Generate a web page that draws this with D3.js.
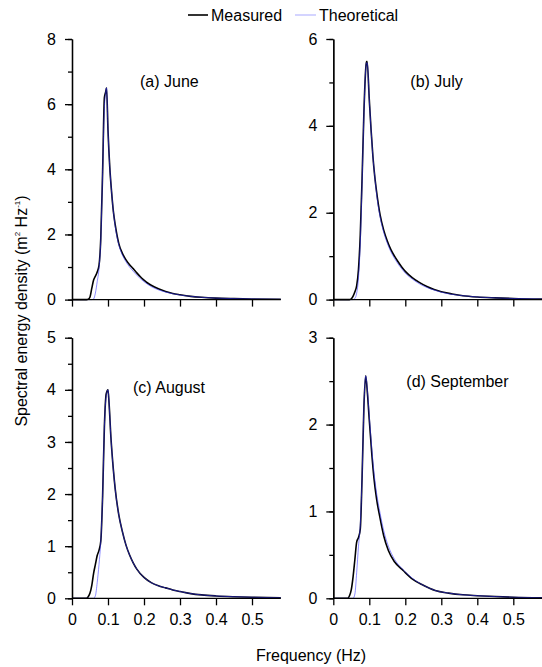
<!DOCTYPE html>
<html>
<head>
  <meta charset="utf-8">
  <title>Spectral energy density</title>
  <script src="https://d3js.org/d3.v7.min.js"></script>
  <style>
    body { margin: 0; background: #fff; font-family: Arial, "Liberation Sans", sans-serif; }
    svg text { font-family: Arial, "Liberation Sans", sans-serif; fill: #000; }
    .axis path, .axis line { stroke: #000; stroke-width: 1.3px; }
  </style>
</head>
<body>
  <svg width="542" height="667"></svg>
  <script>
    // frequency grids (Hz) and spectra (m^2 Hz^-1)
    const freqJune = [0, 0.04, 0.045, 0.05, 0.055, 0.06, 0.065, 0.07, 0.075, 0.08, 0.085, 0.09, 0.093, 0.096, 0.1, 0.105, 0.11, 0.115, 0.12, 0.13, 0.14, 0.15, 0.16, 0.17, 0.18, 0.19, 0.2, 0.21, 0.22, 0.24, 0.26, 0.28, 0.3, 0.33, 0.36, 0.4, 0.45, 0.5, 0.58];
    const measJune = [0, 0, 0.01, 0.08, 0.35, 0.6, 0.72, 0.85, 1.05, 1.9, 3.9, 6.2, 6.35, 6.5, 5.2, 4.05, 3.3, 2.7, 2.3, 1.72, 1.42, 1.22, 1.07, 0.95, 0.82, 0.7, 0.6, 0.51, 0.44, 0.33, 0.25, 0.19, 0.15, 0.1, 0.07, 0.045, 0.03, 0.02, 0.01];
    const theoJune = [0, 0, 0, 0, 0, 0.02, 0.2, 0.55, 0.95, 1.85, 3.9, 5.9, 6.3, 6.5, 5.2, 4.05, 3.3, 2.7, 2.25, 1.68, 1.37, 1.16, 1.0, 0.87, 0.75, 0.64, 0.55, 0.47, 0.4, 0.3, 0.23, 0.18, 0.14, 0.1, 0.07, 0.045, 0.03, 0.02, 0.01];

    const freqJuly = [0, 0.045, 0.05, 0.055, 0.06, 0.065, 0.07, 0.075, 0.08, 0.085, 0.09, 0.092, 0.094, 0.1, 0.105, 0.11, 0.115, 0.12, 0.13, 0.14, 0.15, 0.16, 0.17, 0.18, 0.19, 0.2, 0.22, 0.24, 0.26, 0.28, 0.3, 0.33, 0.36, 0.4, 0.45, 0.5, 0.58];
    const measJuly = [0, 0, 0.02, 0.08, 0.18, 0.32, 0.7, 1.5, 2.8, 4.3, 5.3, 5.48, 5.48, 4.6, 3.9, 3.3, 2.85, 2.5, 1.95, 1.6, 1.35, 1.15, 1.0, 0.87, 0.75, 0.65, 0.5, 0.39, 0.3, 0.23, 0.18, 0.13, 0.09, 0.06, 0.04, 0.025, 0.012];
    const theoJuly = [0, 0, 0, 0, 0.03, 0.15, 0.5, 1.3, 2.7, 4.25, 5.3, 5.45, 5.45, 4.6, 3.9, 3.3, 2.85, 2.45, 1.9, 1.55, 1.3, 1.1, 0.95, 0.82, 0.71, 0.61, 0.47, 0.36, 0.28, 0.22, 0.17, 0.12, 0.09, 0.06, 0.04, 0.025, 0.012];

    const freqAug = [0, 0.04, 0.045, 0.05, 0.055, 0.06, 0.065, 0.07, 0.075, 0.08, 0.085, 0.09, 0.095, 0.1, 0.103, 0.108, 0.115, 0.12, 0.13, 0.14, 0.15, 0.16, 0.17, 0.18, 0.2, 0.22, 0.24, 0.26, 0.28, 0.3, 0.33, 0.36, 0.4, 0.45, 0.5, 0.58];
    const measAug = [0, 0, 0.03, 0.1, 0.25, 0.48, 0.65, 0.82, 0.92, 1.1, 1.95, 3.3, 3.92, 4.0, 3.74, 3.1, 2.46, 2.1, 1.6, 1.28, 1.02, 0.83, 0.68, 0.56, 0.4, 0.3, 0.24, 0.2, 0.16, 0.13, 0.09, 0.065, 0.045, 0.03, 0.02, 0.01];
    const theoAug = [0, 0, 0, 0, 0, 0, 0.05, 0.3, 0.65, 1.1, 1.95, 3.3, 3.88, 4.0, 3.74, 3.1, 2.46, 2.1, 1.6, 1.28, 1.02, 0.83, 0.68, 0.56, 0.4, 0.3, 0.24, 0.2, 0.16, 0.13, 0.09, 0.065, 0.045, 0.03, 0.02, 0.01];

    const freqSep = [0, 0.04, 0.045, 0.05, 0.055, 0.06, 0.065, 0.07, 0.075, 0.08, 0.085, 0.09, 0.095, 0.1, 0.107, 0.113, 0.12, 0.13, 0.14, 0.153, 0.17, 0.194, 0.22, 0.25, 0.283, 0.32, 0.36, 0.4, 0.45, 0.5, 0.58];
    const measSep = [0, 0, 0.03, 0.1, 0.25, 0.45, 0.65, 0.7, 0.8, 1.4, 2.2, 2.56, 2.35, 2.05, 1.66, 1.38, 1.15, 0.92, 0.72, 0.55, 0.42, 0.32, 0.22, 0.15, 0.09, 0.06, 0.04, 0.03, 0.02, 0.012, 0.006];
    const theoSep = [0, 0, 0, 0, 0, 0.05, 0.3, 0.6, 0.85, 1.4, 2.2, 2.56, 2.38, 2.1, 1.72, 1.45, 1.22, 0.98, 0.78, 0.6, 0.45, 0.33, 0.23, 0.15, 0.09, 0.06, 0.04, 0.03, 0.02, 0.012, 0.006];

    const panelLabels = ["(a) June", "(b) July", "(c) August", "(d) September"];
    const yMax = [8, 6, 5, 3];
    const yMajorStep = [2, 2, 1, 1];
    const yMinorStep = [1, 1, 0.5, 0.5];
    const xTicks = [0, 0.1, 0.2, 0.3, 0.4, 0.5];
    const xMax = 0.58;
    const legendNames = ["Measured", "Theoretical"];

    const series = [
      { f: freqJune, meas: measJune, theo: theoJune },
      { f: freqJuly, meas: measJuly, theo: theoJuly },
      { f: freqAug, meas: measAug, theo: theoAug },
      { f: freqSep, meas: measSep, theo: theoSep }
    ];

    // panel frames in pixels
    const frames = [
      { x: 72, y: 39, label: [68, 48] },
      { x: 333.3, y: 39, label: [77, 48] },
      { x: 72, y: 337.7, label: [61, 55] },
      { x: 333.3, y: 337.7, label: [73, 49] }
    ];
    const pw = 0.58 * 360, ph = 260.6;

    const svg = d3.select("svg");

    series.forEach((s, i) => {
      const fr = frames[i];
      const g = svg.append("g").attr("transform", `translate(${fr.x},${fr.y})`);
      const x = d3.scaleLinear().domain([0, xMax]).range([0, pw]);
      const y = d3.scaleLinear().domain([0, yMax[i]]).range([ph, 0]);

      const line = d3.line().curve(d3.curveMonotoneX)
        .x((d, k) => x(s.f[k]))
        .y(d => y(d));

      g.append("path").datum(s.meas)
        .attr("fill", "none").attr("stroke", "#000").attr("stroke-width", 1.6)
        .attr("d", line);
      g.append("path").datum(s.theo)
        .attr("fill", "none").attr("stroke", "#3333ff").attr("stroke-width", 0.7)
        .attr("stroke-opacity", 0.8)
        .attr("d", line);

      // x axis
      const xa = g.append("g").attr("class", "axis").attr("transform", `translate(0,${ph})`)
        .call(d3.axisBottom(x).tickValues(xTicks).tickSize(7).tickSizeOuter(0)
          .tickFormat(i >= 2 ? d3.format("") : () => ""));
      xa.selectAll("text").attr("font-size", 16).attr("dy", "1.05em");
      xa.select(".domain").attr("d", `M0,0H${pw}`);

      // y axis minor ticks
      g.append("g").attr("class", "axis")
        .call(d3.axisLeft(y).tickValues(d3.range(0, yMax[i] + 1e-9, yMinorStep[i]))
          .tickSize(4).tickSizeOuter(0).tickFormat(() => ""));
      const ya = g.append("g").attr("class", "axis")
        .call(d3.axisLeft(y).tickValues(d3.range(0, yMax[i] + 1e-9, yMajorStep[i]))
          .tickSize(7).tickSizeOuter(0).tickFormat(d3.format("")));
      ya.selectAll("text").attr("font-size", 16).attr("x", -16);

      g.append("text")
        .attr("x", fr.label[0]).attr("y", fr.label[1])
        .attr("font-size", 16)
        .text(panelLabels[i]);
    });

    // legend
    const lg = svg.append("g");
    lg.append("line").attr("x1", 188).attr("x2", 208).attr("y1", 15).attr("y2", 15)
      .attr("stroke", "#000").attr("stroke-width", 1.6);
    lg.append("text").attr("x", 211).attr("y", 21).attr("font-size", 16).text(legendNames[0]);
    lg.append("line").attr("x1", 295).attr("x2", 316).attr("y1", 15).attr("y2", 15)
      .attr("stroke", "#3333ff").attr("stroke-width", 0.7).attr("stroke-opacity", 0.6);
    lg.append("text").attr("x", 319).attr("y", 21).attr("font-size", 16).text(legendNames[1]);

    // axis titles
    svg.append("text")
      .attr("x", 311).attr("y", 661)
      .attr("text-anchor", "middle").attr("font-size", 16)
      .text("Frequency (Hz)");

    const yl = svg.append("text")
      .attr("transform", "translate(27,311) rotate(-90)")
      .attr("text-anchor", "middle").attr("font-size", 16);
    yl.append("tspan").text("Spectral energy density (m");
    yl.append("tspan").attr("font-size", 8).attr("dy", -7).text("2");
    yl.append("tspan").attr("dy", 7).text(" Hz");
    yl.append("tspan").attr("font-size", 8).attr("dy", -7).text("-1");
    yl.append("tspan").attr("dy", 7).text(")");
  </script>
</body>
</html>
